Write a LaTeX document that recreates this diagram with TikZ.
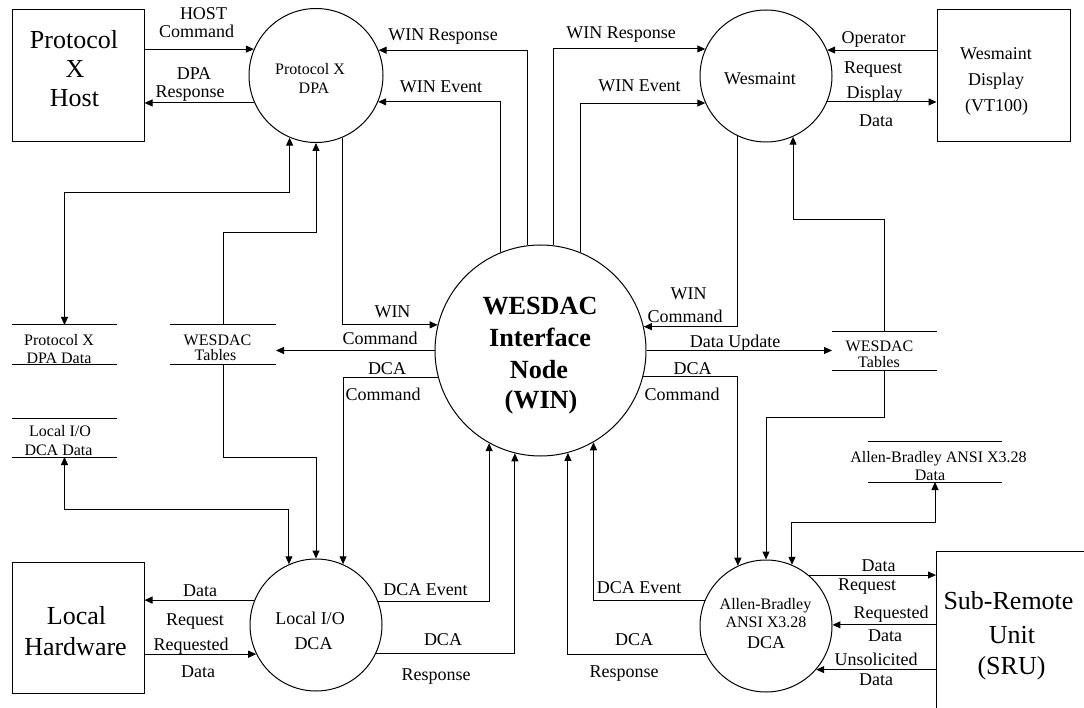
\documentclass[tikz,border=0pt]{standalone}
\usepackage{fontspec}
\setmainfont{Liberation Serif}
\usetikzlibrary{arrows.meta}
\begin{document}
\begin{tikzpicture}[x=1pt,y=-1pt,line width=1pt,
  lab/.style={font=\fontsize{18}{20}\selectfont,anchor=base,inner sep=0pt},
  big/.style={font=\fontsize{26}{28}\selectfont,anchor=base,inner sep=0pt},
  sm/.style={font=\fontsize{16}{18}\selectfont,anchor=base,inner sep=0pt},
  boldt/.style={font=\bfseries\fontsize{26.2}{28}\selectfont,anchor=base,inner sep=0pt},
  proc/.style={circle,draw,inner sep=0pt},
  ext/.style={rectangle,draw,inner sep=0pt},
  store/.style={rectangle,draw=none,inner sep=0pt,outer sep=0pt},
  flow/.style={-{Triangle[length=8pt,width=7pt]}},
  flow2/.style={{Triangle[length=8pt,width=7pt]}-{Triangle[length=8pt,width=7pt]}}]
\useasboundingbox (0,0) rectangle (1084,708);

% external entities
\node[ext,minimum width=132pt,minimum height=132pt] (host) at (78,76) {};
\node[ext,minimum width=133pt,minimum height=132pt] (vt) at (1003.5,76) {};
\node[ext,minimum width=132pt,minimum height=131pt] (lhw) at (78,627.5) {};
\node[draw=none,inner sep=0pt,outer sep=0pt,minimum width=147.5pt,minimum height=157pt] (sru) at (1009.75,629.5) {};
\draw (sru.south west) -- (sru.north west) -- (sru.north east);

% processes
\node[proc,minimum size=134pt] (dpa) at (316,75.5) {};
\node[proc,minimum size=132pt] (wes) at (766,76) {};
\node[proc,minimum size=211pt] (win) at (540.5,350.5) {};
\node[proc,minimum size=132pt] (lio) at (316,625) {};
\node[proc,minimum size=132pt] (ab) at (766,626) {};

% data stores
\node[store,minimum width=105pt,minimum height=40pt] (dpadata) at (64.5,345) {};
\node[store,minimum width=106pt,minimum height=40pt] (ltab) at (223,345) {};
\node[store,minimum width=105pt,minimum height=39pt] (liodata) at (64.5,437.5) {};
\node[store,minimum width=105pt,minimum height=39pt] (rtab) at (884.5,351.5) {};
\node[store,minimum width=134pt,minimum height=41pt] (abdata) at (935,461.5) {};
\foreach \s in {dpadata,ltab,liodata,rtab,abdata}{
  \draw (\s.north west) -- (\s.north east) (\s.south west) -- (\s.south east);}

% helper coordinates
\coordinate (y193) at (0,193);
\coordinate (y233) at (0,233);
\coordinate (y457) at (0,457);
\coordinate (y509) at (0,509);
\coordinate (y220) at (0,220);
\coordinate (y417) at (0,417);
\coordinate (y522) at (0,522);

% connectors
\draw[flow] (dpa.157.6 -| host.east) -- (dpa.157.6);
\draw[flow] (dpa.-156.7) -- (dpa.-156.7 -| host.east);
\draw[flow] (win.97.35) |- (dpa.22.4);
\draw[flow] (win.112.58) |- (dpa.-23.3);
\draw[flow] (win.83.2) |- (wes.156.8);
\draw[flow] (win.68.0) |- (wes.-156.8);
\draw[flow] (wes.23.2 -| vt.west) -- (wes.23.2);
\draw[flow] (wes.-23.2) -- (wes.-23.2 -| vt.west);
\draw[flow2] (dpa.-113.77) |- (dpadata.north |- y193) -- (dpadata.north);
\draw[flow] (ltab.north) |- (dpa.south |- y233) -- (dpa.south);
\draw[flow] (dpa.-67.17) |- (win.166);
\draw[flow] (win.180.8) -- (win.180.8 -| ltab.east);
\draw[flow] (win.-165.45) -| (lio.66.8);
\draw[flow] (ltab.south) |- (lio.north |- y457) -- (lio.north);
\draw[flow2] (liodata.south) |- (lio.114.15 |- y509) -- (lio.114.15);
\draw[flow] (lio.158.68) -- (lio.158.68 -| lhw.east);
\draw[flow] (lio.-154.9 -| lhw.east) -- (lio.-154.9);
\draw[flow] (lio.21.32) -| (win.-119.84);
\draw[flow] (lio.-25.1) -| (win.-104.55);
\draw[flow] (ab.-155.85) -| (win.-75.45);
\draw[flow] (ab.157.74) -| (win.-60.16);
\draw[flow] (wes.-115.1) |- (win.13.99);
\draw[flow] (win.-0.8) -- (win.-0.8 -| rtab.west);
\draw[flow] (win.-14.55) -| (ab.115.1);
\draw[flow] (rtab.north) |- (wes.-66.8 |- y220) -- (wes.-66.8);
\draw[flow] (rtab.south) |- (ab.north |- y417) -- (ab.north);
\draw[flow2] (ab.67.74) |- (abdata.south |- y522) -- (abdata.south);
\draw[flow] (ab.50.6) -- (ab.50.6 -| sru.west);
\draw[flow] (sru.west |- ab.1.74) -- (ab.1.74);
\draw[flow] (sru.west |- ab.-41.8) -- (ab.-41.8);

% texts in shapes
\node[big] (tHost1) at (74,49) {Protocol};
\node[big] (tHost2) at (75,78) {X};
\node[big] (tHost3) at (74.5,107) {Host};
\node[sm] (tDpa1) at (310,75) {Protocol X};
\node[sm] (tDpa2) at (314,94) {DPA};
\node[lab] (tWes) at (760,85) {Wesmaint};
\node[lab] (tVt1) at (996,60) {Wesmaint};
\node[lab] (tVt2) at (996,86) {Display};
\node[lab] (tVt3) at (996.5,112) {(VT100)};
\node[boldt] (tWin1) at (540,315) {WESDAC};
\node[boldt] (tWin2) at (540,346.7) {Interface};
\node[boldt] (tWin3) at (539,378) {Node};
\node[boldt] (tWin4) at (541,408) {(WIN)};
\node[big] (tLhw1) at (76.5,624) {Local};
\node[big] (tLhw2) at (75.5,655) {Hardware};
\node[lab] (tLio1) at (310,624) {Local I/O};
\node[lab] (tLio2) at (313.5,649) {DCA};
\node[sm] (tAb1) at (765.5,609) {Allen-Bradley};
\node[sm] (tAb2) at (766,627) {ANSI X3.28};
\node[lab] (tAb3) at (766,648) {DCA};
\node[big] (tSru1) at (1008.5,609) {Sub-Remote};
\node[big] (tSru2) at (1012,643) {Unit};
\node[big] (tSru3) at (1011.5,674) {(SRU)};

% store texts
\node[sm] (tS1a) at (59,346) {Protocol X};
\node[sm] (tS1b) at (59,363) {DPA Data};
\node[sm] (tS2a) at (217.5,345.5) {WESDAC};
\node[sm] (tS2b) at (215.5,361) {Tables};
\node[sm] (tS3a) at (60,436.7) {Local I/O};
\node[sm] (tS3b) at (58.5,455) {DCA Data};
\node[sm] (tS4a) at (879.5,352) {WESDAC};
\node[sm] (tS4b) at (879,368) {Tables};
\node[sm] (tS5a) at (938.5,462) {Allen-Bradley ANSI X3.28};
\node[sm] (tS5b) at (930,480) {Data};

% flow labels
\node[lab] (l1a) at (203.5,19.3) {HOST};
\node[lab] (l1b) at (196.5,37.7) {Command};
\node[lab] (l2a) at (194,80) {DPA};
\node[lab] (l2b) at (190,97.5) {Response};
\node[lab] (l3) at (443,41) {WIN Response};
\node[lab] (l4) at (441,92.7) {WIN Event};
\node[lab] (l5) at (621,39) {WIN Response};
\node[lab] (l6) at (639.5,91.7) {WIN Event};
\node[lab] (l7a) at (873.5,44) {Operator};
\node[lab] (l7b) at (873,74) {Request};
\node[lab] (l8a) at (874.5,99) {Display};
\node[lab] (l8b) at (876,127) {Data};
\node[lab] (l9a) at (392.5,318) {WIN};
\node[lab] (l9b) at (380,345) {Command};
\node[lab] (l10a) at (387,374) {DCA};
\node[lab] (l10b) at (383,400.7) {Command};
\node[lab] (l11a) at (688.5,300) {WIN};
\node[lab] (l11b) at (685,322.7) {Command};
\node[lab] (l12) at (735,348) {Data Update};
\node[lab] (l13a) at (692.5,374) {DCA};
\node[lab] (l13b) at (682,400) {Command};
\node[lab] (l14a) at (200,596) {Data};
\node[lab] (l14b) at (195,625) {Request};
\node[lab] (l15a) at (191,650) {Requested};
\node[lab] (l15b) at (198,677) {Data};
\node[lab] (l16) at (425.5,595) {DCA Event};
\node[lab] (l17a) at (443,645) {DCA};
\node[lab] (l17b) at (436,680.7) {Response};
\node[lab] (l18) at (639,593) {DCA Event};
\node[lab] (l19a) at (634,645.7) {DCA};
\node[lab] (l19b) at (624,677) {Response};
\node[lab] (l20a) at (878.5,571) {Data};
\node[lab] (l20b) at (867,590.7) {Request};
\node[lab] (l21a) at (891,618) {Requested};
\node[lab] (l21b) at (885,641.7) {Data};
\node[lab] (l22a) at (876,665) {Unsolicited};
\node[lab] (l22b) at (876,685.7) {Data};
\end{tikzpicture}
\end{document}
